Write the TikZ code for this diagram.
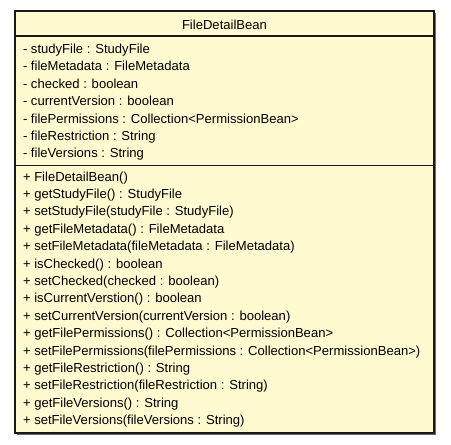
\documentclass[tikz,border=0pt]{standalone}
\usepackage{fontspec}
\setmainfont{Liberation Sans}
\usetikzlibrary{calc,positioning}
\definecolor{beanfill}{RGB}{255,250,208}
\definecolor{beanshadow}{RGB}{110,110,110}
\tikzset{
    classbox/.style={draw=black!90, fill=beanfill, line width=0.9pt},
    sepline/.style={draw=black!90, line width=1.3pt},
    title/.style={inner sep=0pt, font=\fontsize{9.8}{11}\selectfont},
    member/.style={anchor=west, inner sep=0pt, outer sep=0pt, minimum height=13.05pt, text height=7.3pt, text depth=2pt, font=\fontsize{9.8}{11}\selectfont},
    next/.style={below right=0pt and 0pt of #1.south west}
}
\begin{document}
\begin{tikzpicture}[x=0.75pt,y=-0.75pt]
			\useasboundingbox (0,0) rectangle (451,444);
			\coordinate (nw) at (15,11);
			\coordinate (se) at (434,433);
			\fill[beanshadow] ($(nw)+(2,2)$) rectangle ($(se)+(2,2)$);
			\draw[classbox] (nw) rectangle (se);

			\node[title] (cls) at (224.5,24.5) {FileDetailBean};
			\coordinate (sepA) at (15,36);
			\coordinate (sepB) at (15,165.5);
			\draw[sepline, line width=0.9pt] (sepA) -- (sepA -| se);
			\draw[sepline] (sepB) -- (sepB -| se);

			% attributes
			\node[member] (a1) at (23,50) {- studyFile : StudyFile};
			\node[member, next=a1] (a2) {- fileMetadata : FileMetadata};
			\node[member, next=a2] (a3) {- checked : boolean};
			\node[member, next=a3] (a4) {- currentVersion : boolean};
			\node[member, next=a4] (a5) {- filePermissions : Collection<PermissionBean>};
			\node[member, next=a5] (a6) {- fileRestriction : String};
			\node[member, next=a6] (a7) {- fileVersions : String};

			% operations
			\node[member] (m1) at (23,177.5) {+ FileDetailBean()};
			\node[member, next=m1] (m2) {+ getStudyFile() : StudyFile};
			\node[member, next=m2] (m3) {+ setStudyFile(studyFile : StudyFile)};
			\node[member, next=m3] (m4) {+ getFileMetadata() : FileMetadata};
			\node[member, next=m4] (m5) {+ setFileMetadata(fileMetadata : FileMetadata)};
			\node[member, next=m5] (m6) {+ isChecked() : boolean};
			\node[member, next=m6] (m7) {+ setChecked(checked : boolean)};
			\node[member, next=m7] (m8) {+ isCurrentVerstion() : boolean};
			\node[member, next=m8] (m9) {+ setCurrentVersion(currentVersion : boolean)};
			\node[member, next=m9] (m10) {+ getFilePermissions() : Collection<PermissionBean>};
			\node[member, next=m10] (m11) {+ setFilePermissions(filePermissions : Collection<PermissionBean>)};
			\node[member, next=m11] (m12) {+ getFileRestriction() : String};
			\node[member, next=m12] (m13) {+ setFileRestriction(fileRestriction : String)};
			\node[member, next=m13] (m14) {+ getFileVersions() : String};
			\node[member, next=m14] (m15) {+ setFileVersions(fileVersions : String)};
		\end{tikzpicture}
\end{document}
